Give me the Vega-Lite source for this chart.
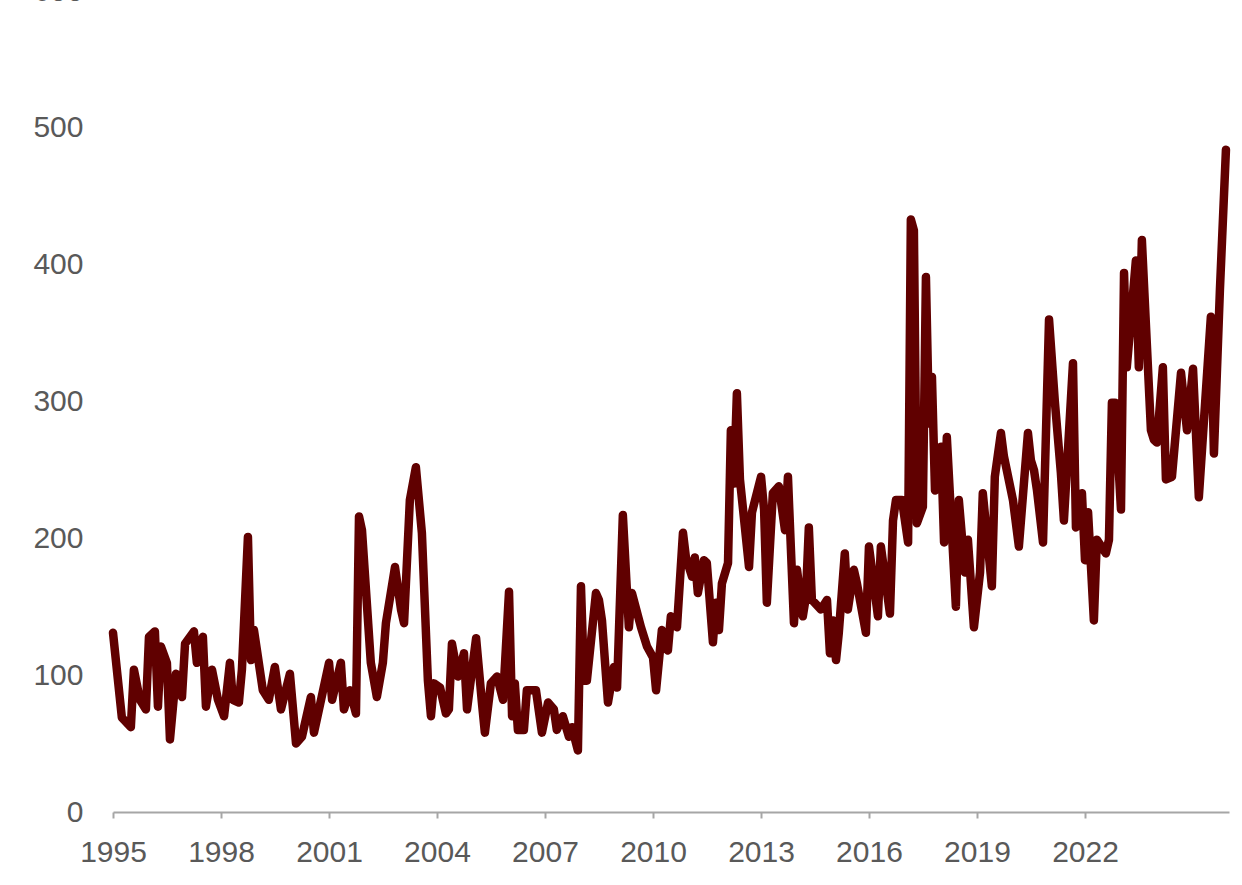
{
  "$schema": "https://vega.github.io/schema/vega-lite/v6.json",
  "width": 1116,
  "height": 821,
  "autosize": "none",
  "padding": {"left": 113, "top": -9, "right": 13, "bottom": 73},
  "background": "white",
  "config": {"view": {"stroke": null}},
  "data": {"values": [
    {"date": "1995-01-01", "value": 131},
    {"date": "1995-04-01", "value": 69},
    {"date": "1995-07-01", "value": 62},
    {"date": "1995-08-01", "value": 104},
    {"date": "1995-10-01", "value": 82},
    {"date": "1995-12-01", "value": 75},
    {"date": "1996-01-01", "value": 128},
    {"date": "1996-03-01", "value": 132},
    {"date": "1996-04-01", "value": 77},
    {"date": "1996-05-01", "value": 121},
    {"date": "1996-07-01", "value": 109},
    {"date": "1996-08-01", "value": 53},
    {"date": "1996-10-01", "value": 101},
    {"date": "1996-12-01", "value": 84},
    {"date": "1997-01-01", "value": 123},
    {"date": "1997-04-01", "value": 132},
    {"date": "1997-05-01", "value": 109},
    {"date": "1997-07-01", "value": 128},
    {"date": "1997-08-01", "value": 77},
    {"date": "1997-10-01", "value": 104},
    {"date": "1997-12-01", "value": 82},
    {"date": "1998-02-01", "value": 70},
    {"date": "1998-04-01", "value": 109},
    {"date": "1998-05-01", "value": 82},
    {"date": "1998-07-01", "value": 80},
    {"date": "1998-08-01", "value": 104},
    {"date": "1998-10-01", "value": 201},
    {"date": "1998-11-01", "value": 111},
    {"date": "1998-12-01", "value": 133},
    {"date": "1999-01-01", "value": 118},
    {"date": "1999-03-01", "value": 89},
    {"date": "1999-05-01", "value": 82},
    {"date": "1999-07-01", "value": 106},
    {"date": "1999-09-01", "value": 75},
    {"date": "1999-12-01", "value": 101},
    {"date": "2000-02-01", "value": 50},
    {"date": "2000-04-01", "value": 55},
    {"date": "2000-07-01", "value": 84},
    {"date": "2000-08-01", "value": 58},
    {"date": "2001-01-01", "value": 109},
    {"date": "2001-02-01", "value": 82},
    {"date": "2001-05-01", "value": 109},
    {"date": "2001-06-01", "value": 75},
    {"date": "2001-08-01", "value": 89},
    {"date": "2001-10-01", "value": 72},
    {"date": "2001-11-01", "value": 216},
    {"date": "2001-12-01", "value": 206},
    {"date": "2002-03-01", "value": 109},
    {"date": "2002-05-01", "value": 84},
    {"date": "2002-07-01", "value": 109},
    {"date": "2002-08-01", "value": 138},
    {"date": "2002-11-01", "value": 179},
    {"date": "2003-01-01", "value": 148},
    {"date": "2003-02-01", "value": 138},
    {"date": "2003-04-01", "value": 228},
    {"date": "2003-06-01", "value": 252},
    {"date": "2003-08-01", "value": 204},
    {"date": "2003-10-01", "value": 96},
    {"date": "2003-11-01", "value": 70},
    {"date": "2003-12-01", "value": 94},
    {"date": "2004-02-01", "value": 91},
    {"date": "2004-04-01", "value": 72},
    {"date": "2004-05-01", "value": 75},
    {"date": "2004-06-01", "value": 123},
    {"date": "2004-08-01", "value": 99},
    {"date": "2004-10-01", "value": 116},
    {"date": "2004-11-01", "value": 75},
    {"date": "2005-02-01", "value": 127},
    {"date": "2005-04-01", "value": 80},
    {"date": "2005-05-01", "value": 58},
    {"date": "2005-07-01", "value": 94},
    {"date": "2005-09-01", "value": 99},
    {"date": "2005-11-01", "value": 82},
    {"date": "2006-01-01", "value": 161},
    {"date": "2006-02-01", "value": 70},
    {"date": "2006-03-01", "value": 94},
    {"date": "2006-04-01", "value": 60},
    {"date": "2006-06-01", "value": 60},
    {"date": "2006-07-01", "value": 89},
    {"date": "2006-10-01", "value": 89},
    {"date": "2006-12-01", "value": 58},
    {"date": "2007-02-01", "value": 80},
    {"date": "2007-04-01", "value": 75},
    {"date": "2007-05-01", "value": 60},
    {"date": "2007-07-01", "value": 70},
    {"date": "2007-09-01", "value": 55},
    {"date": "2007-10-01", "value": 62},
    {"date": "2007-12-01", "value": 45},
    {"date": "2008-01-01", "value": 165},
    {"date": "2008-02-01", "value": 96},
    {"date": "2008-03-01", "value": 96},
    {"date": "2008-06-01", "value": 160},
    {"date": "2008-07-01", "value": 155},
    {"date": "2008-08-01", "value": 140},
    {"date": "2008-10-01", "value": 80},
    {"date": "2008-12-01", "value": 106},
    {"date": "2009-01-01", "value": 91},
    {"date": "2009-03-01", "value": 217},
    {"date": "2009-05-01", "value": 135},
    {"date": "2009-06-01", "value": 160},
    {"date": "2009-09-01", "value": 135},
    {"date": "2009-11-01", "value": 121},
    {"date": "2010-01-01", "value": 113},
    {"date": "2010-02-01", "value": 89},
    {"date": "2010-04-01", "value": 133},
    {"date": "2010-06-01", "value": 118},
    {"date": "2010-07-01", "value": 143},
    {"date": "2010-09-01", "value": 135},
    {"date": "2010-11-01", "value": 204},
    {"date": "2010-12-01", "value": 186},
    {"date": "2011-02-01", "value": 172},
    {"date": "2011-03-01", "value": 186},
    {"date": "2011-04-01", "value": 160},
    {"date": "2011-06-01", "value": 184},
    {"date": "2011-07-01", "value": 182},
    {"date": "2011-09-01", "value": 124},
    {"date": "2011-10-01", "value": 153},
    {"date": "2011-11-01", "value": 133},
    {"date": "2011-12-01", "value": 167},
    {"date": "2012-02-01", "value": 182},
    {"date": "2012-03-01", "value": 279},
    {"date": "2012-04-01", "value": 240},
    {"date": "2012-05-01", "value": 306},
    {"date": "2012-06-01", "value": 243},
    {"date": "2012-09-01", "value": 179},
    {"date": "2012-10-01", "value": 219},
    {"date": "2013-01-01", "value": 245},
    {"date": "2013-02-01", "value": 221},
    {"date": "2013-03-01", "value": 153},
    {"date": "2013-05-01", "value": 233},
    {"date": "2013-07-01", "value": 238},
    {"date": "2013-09-01", "value": 206},
    {"date": "2013-10-01", "value": 245},
    {"date": "2013-12-01", "value": 138},
    {"date": "2014-01-01", "value": 177},
    {"date": "2014-03-01", "value": 143},
    {"date": "2014-04-01", "value": 157},
    {"date": "2014-05-01", "value": 208},
    {"date": "2014-06-01", "value": 155},
    {"date": "2014-09-01", "value": 148},
    {"date": "2014-11-01", "value": 155},
    {"date": "2014-12-01", "value": 116},
    {"date": "2015-01-01", "value": 140},
    {"date": "2015-02-01", "value": 111},
    {"date": "2015-03-01", "value": 131},
    {"date": "2015-05-01", "value": 189},
    {"date": "2015-06-01", "value": 148},
    {"date": "2015-08-01", "value": 177},
    {"date": "2015-09-01", "value": 167},
    {"date": "2015-12-01", "value": 131},
    {"date": "2016-01-01", "value": 194},
    {"date": "2016-04-01", "value": 143},
    {"date": "2016-05-01", "value": 194},
    {"date": "2016-08-01", "value": 145},
    {"date": "2016-09-01", "value": 213},
    {"date": "2016-10-01", "value": 228},
    {"date": "2016-12-01", "value": 228},
    {"date": "2017-02-01", "value": 197},
    {"date": "2017-03-01", "value": 433},
    {"date": "2017-04-01", "value": 425},
    {"date": "2017-05-01", "value": 211},
    {"date": "2017-07-01", "value": 223},
    {"date": "2017-08-01", "value": 391},
    {"date": "2017-09-01", "value": 284},
    {"date": "2017-10-01", "value": 318},
    {"date": "2017-11-01", "value": 235},
    {"date": "2018-01-01", "value": 267},
    {"date": "2018-02-01", "value": 197},
    {"date": "2018-03-01", "value": 274},
    {"date": "2018-06-01", "value": 150},
    {"date": "2018-07-01", "value": 228},
    {"date": "2018-09-01", "value": 175},
    {"date": "2018-10-01", "value": 199},
    {"date": "2018-12-01", "value": 135},
    {"date": "2019-02-01", "value": 175},
    {"date": "2019-03-01", "value": 233},
    {"date": "2019-06-01", "value": 165},
    {"date": "2019-07-01", "value": 245},
    {"date": "2019-09-01", "value": 277},
    {"date": "2019-10-01", "value": 260},
    {"date": "2020-01-01", "value": 228},
    {"date": "2020-03-01", "value": 194},
    {"date": "2020-06-01", "value": 277},
    {"date": "2020-07-01", "value": 257},
    {"date": "2020-08-01", "value": 250},
    {"date": "2020-09-01", "value": 235},
    {"date": "2020-11-01", "value": 197},
    {"date": "2021-01-01", "value": 360},
    {"date": "2021-03-01", "value": 300},
    {"date": "2021-05-01", "value": 248},
    {"date": "2021-06-01", "value": 213},
    {"date": "2021-09-01", "value": 328},
    {"date": "2021-10-01", "value": 208},
    {"date": "2021-12-01", "value": 233},
    {"date": "2022-01-01", "value": 184},
    {"date": "2022-02-01", "value": 219},
    {"date": "2022-04-01", "value": 140},
    {"date": "2022-05-01", "value": 199},
    {"date": "2022-08-01", "value": 189},
    {"date": "2022-09-01", "value": 199},
    {"date": "2022-10-01", "value": 299},
    {"date": "2022-11-01", "value": 299},
    {"date": "2023-01-01", "value": 221},
    {"date": "2023-02-01", "value": 394},
    {"date": "2023-03-01", "value": 325},
    {"date": "2023-06-01", "value": 403},
    {"date": "2023-07-01", "value": 325},
    {"date": "2023-08-01", "value": 418},
    {"date": "2023-11-01", "value": 279},
    {"date": "2023-12-01", "value": 272},
    {"date": "2024-01-01", "value": 270},
    {"date": "2024-03-01", "value": 325},
    {"date": "2024-04-01", "value": 243},
    {"date": "2024-06-01", "value": 245},
    {"date": "2024-09-01", "value": 321},
    {"date": "2024-11-01", "value": 279},
    {"date": "2025-01-01", "value": 324},
    {"date": "2025-03-01", "value": 230},
    {"date": "2025-07-01", "value": 362},
    {"date": "2025-08-01", "value": 262},
    {"date": "2025-10-01", "value": 382},
    {"date": "2025-12-01", "value": 484}
  ]},
  "mark": {"type": "line", "color": "#600000", "strokeWidth": 8.5, "strokeJoin": "round", "strokeCap": "round"},
  "encoding": {
    "x": {
      "field": "date", "type": "temporal",
      "scale": {"domain": ["1995-01-01", "2026-01-01"]},
      "axis": {
        "title": null,
        "values": ["1995-01-01", "1998-01-01", "2001-01-01", "2004-01-01", "2007-01-01", "2010-01-01", "2013-01-01", "2016-01-01", "2019-01-01", "2022-01-01"],
        "format": "%Y",
        "grid": false,
        "domainColor": "#a6a6a6", "domainWidth": 2,
        "tickColor": "#a6a6a6", "tickWidth": 2, "tickSize": 6,
        "labelFont": "Liberation Sans", "labelFontSize": 30, "labelColor": "#595959",
        "labelPadding": 19, "labelFlush": false, "labelOverlap": false
      }
    },
    "y": {
      "field": "value", "type": "quantitative",
      "scale": {"domain": [0, 600], "nice": false},
      "axis": {
        "title": null,
        "values": [0, 100, 200, 300, 400, 500, 600],
        "grid": false, "domain": false, "ticks": false,
        "labelFont": "Liberation Sans", "labelFontSize": 30, "labelColor": "#595959",
        "labelPadding": 30
      }
    }
  }
}
